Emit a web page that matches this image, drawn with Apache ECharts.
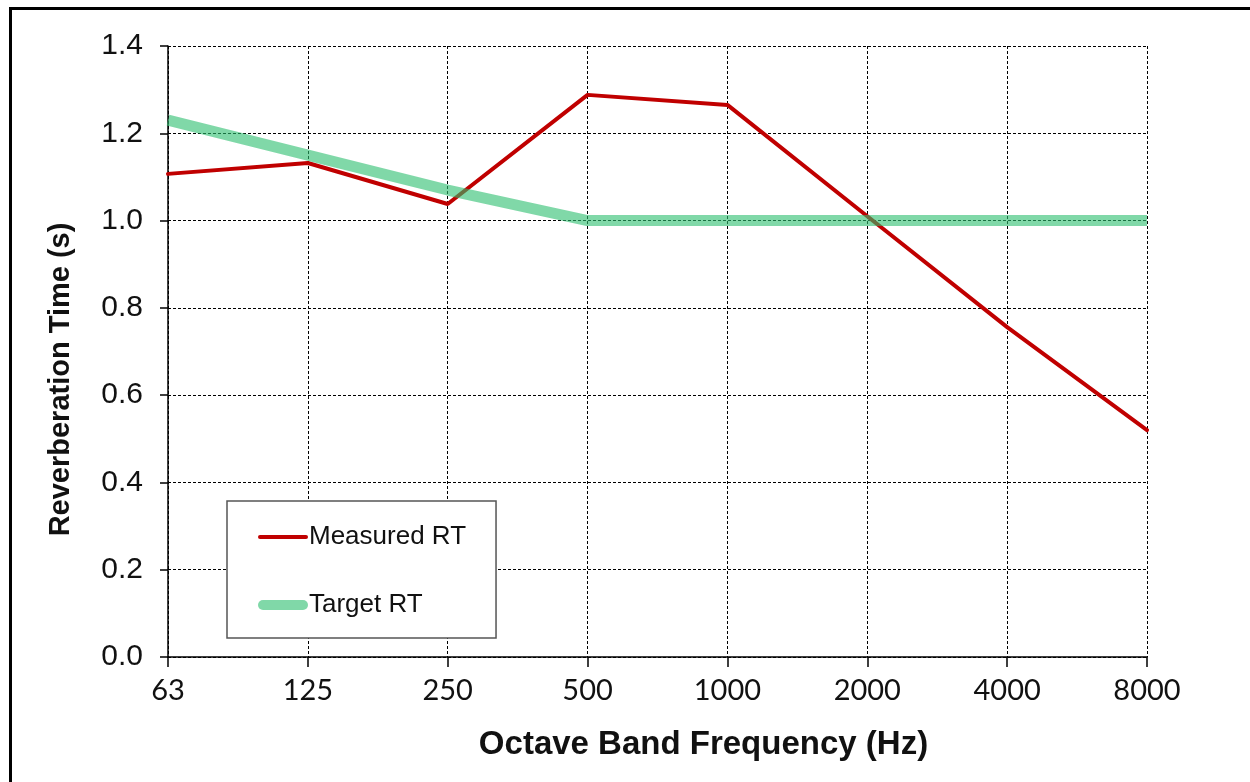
<!DOCTYPE html>
<html>
<head>
<meta charset="utf-8">
<script src="https://cdn.jsdelivr.net/npm/echarts@6/dist/echarts.min.js"></script>
<style>
html,body{margin:0;padding:0;background:#fff;}
#c{width:1250px;height:782px;}
</style>
</head>
<body>
<div id="c"></div>
<script>
const categories = ['63','125','250','500','1000','2000','4000','8000'];
const measuredRT = [1.107, 1.132, 1.038, 1.288, 1.265, 1.01, 0.756, 0.52];
const targetRT = [1.23, 1.15, 1.07, 1.0, 1.0, 1.0, 1.0, 1.0];
const yTicks = { min: 0, max: 1.4, interval: 0.2 };

const chart = echarts.init(document.getElementById('c'));
const gridDash = { color: '#000', width: 1, type: [3, 2] };
const arial = 'Liberation Sans, Arial, sans-serif';
chart.setOption({
  backgroundColor: '#fff',
  animation: false,
  graphic: [{
    type: 'rect', left: 8, top: 6, silent: true,
    shape: { x: 0, y: 0, width: 1400, height: 900 },
    style: { fill: 'none', stroke: '#000', lineWidth: 3 }
  }],
  grid: { left: 168, right: 103, top: 46, bottom: 125 },
  legend: {
    orient: 'vertical',
    left: 227, top: 501,
    padding: [23, 30, 20, 31],
    itemGap: 42,
    itemWidth: 50, itemHeight: 22,
    backgroundColor: '#fff',
    borderColor: '#555', borderWidth: 1.5,
    textStyle: { fontFamily: arial, fontSize: 26, color: '#111', padding: [0, 0, 0, -4], lineHeight: 22 },
    data: [
      { name: 'Measured RT', icon: 'path://M2,0 L48,0 A2,2 0 0 1 48,4 L2,4 A2,2 0 0 1 2,0 Z' },
      { name: 'Target RT', icon: 'path://M5,0 L45,0 A5,5 0 0 1 45,10 L5,10 A5,5 0 0 1 5,0 Z' }
    ]
  },
  xAxis: {
    type: 'category',
    data: categories,
    boundaryGap: false,
    name: 'Octave Band Frequency (Hz)',
    nameLocation: 'middle',
    nameGap: 71,
    nameTextStyle: { fontFamily: arial, fontWeight: 'bold', fontSize: 33, color: '#111', padding: [0, 0, 0, 92] },
    axisLine: { lineStyle: { color: '#000', width: 1.5 } },
    axisTick: { show: true, inside: false, length: 10, alignWithLabel: true, lineStyle: { color: '#000', width: 1.5 } },
    axisLabel: { fontFamily: 'Lato, sans-serif', fontSize: 29, color: '#111', margin: 19 },
    splitLine: { show: true, lineStyle: gridDash }
  },
  yAxis: {
    type: 'value',
    min: yTicks.min, max: yTicks.max, interval: yTicks.interval,
    name: 'Reverberation Time (s)',
    nameLocation: 'middle',
    nameGap: 93,
    nameTextStyle: { fontFamily: arial, fontWeight: 'bold', fontSize: 29, color: '#111', padding: [0, 56, 0, 0] },
    axisLine: { show: true, lineStyle: { color: '#000', width: 1.5 } },
    axisTick: { show: true, inside: false, length: 8, lineStyle: { color: '#000', width: 1.5 } },
    axisLabel: { fontFamily: arial, fontSize: 30, color: '#111', margin: 25,
      formatter: v => v.toFixed(1) },
    splitLine: { show: true, lineStyle: gridDash }
  },
  series: [
    {
      name: 'Measured RT', type: 'line', data: measuredRT,
      symbol: 'none', color: '#C00000',
      lineStyle: { color: '#C00000', width: 4, cap: 'round' }
    },
    {
      name: 'Target RT', type: 'line', data: targetRT,
      symbol: 'none', color: 'rgba(43,190,110,0.6)',
      lineStyle: { color: 'rgba(43,190,110,0.6)', width: 11 }
    }
  ]
});
</script>
</body>
</html>
